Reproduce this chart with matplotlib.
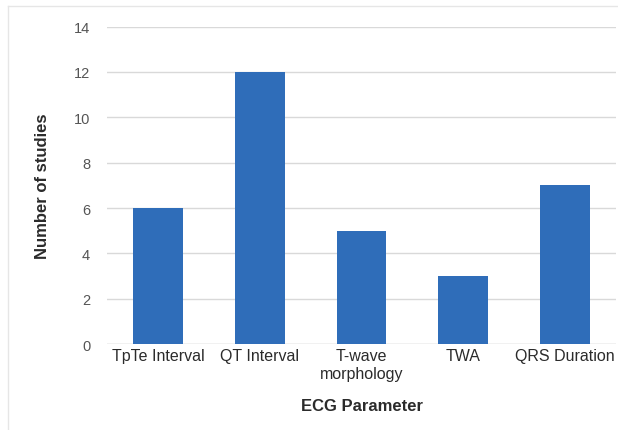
# Bar chart: number of studies per ECG parameter
import matplotlib.pyplot as plt
from matplotlib.lines import Line2D

plt.rcParams['font.family'] = ['Liberation Sans', 'DejaVu Sans']

# categories and counts
parameters = ["TpTe Interval", "QT Interval", "T-wave\nmorphology", "TWA", "QRS Duration"]
studies = [6, 12, 5, 3, 7]
y_ticks = [0, 2, 4, 6, 8, 10, 12, 14]

bar_color = "#2F6DB9"
grid_color = "#D9D9D9"

fig = plt.figure(figsize=(6.18, 4.31), dpi=100)
ax = fig.add_axes([0.173, 0.199, 0.824, 0.737])

ax.bar(range(len(parameters)), studies, width=0.49, color=bar_color, zorder=3)

ax.set_ylim(0, 14)
ax.set_xlim(-0.5, len(parameters) - 0.5)
ax.set_yticks(y_ticks)
ax.set_xticks(range(len(parameters)))
ax.set_xticklabels(parameters, fontsize=11.5, color="#2B2B2B", linespacing=1.25)
ax.tick_params(axis='y', length=0, pad=12, labelsize=10.5, labelcolor="#555555")
ax.tick_params(axis='x', length=0, pad=3)

ax.yaxis.grid(True, color=grid_color, linewidth=1.0, zorder=0)
for side in ["top", "right", "left", "bottom"]:
    ax.spines[side].set_visible(False)
ax.axhline(0, color=grid_color, linewidth=1.0, zorder=1)

ax.set_xlabel("ECG Parameter", fontsize=12, fontweight="bold", color="#2B2B2B", labelpad=12)
ax.set_ylabel("Number of studies", fontsize=12, fontweight="bold", color="#2B2B2B", labelpad=17)

# faint frame around the chart area
fig.add_artist(Line2D([8 / 618, 8 / 618], [0, 1 - 7 / 431], transform=fig.transFigure,
                      color="#E6E6E6", linewidth=1.0))
fig.add_artist(Line2D([8 / 618, 1], [1 - 7 / 431, 1 - 7 / 431], transform=fig.transFigure,
                      color="#E6E6E6", linewidth=1.0))

fig.savefig("out.png", dpi=100)
